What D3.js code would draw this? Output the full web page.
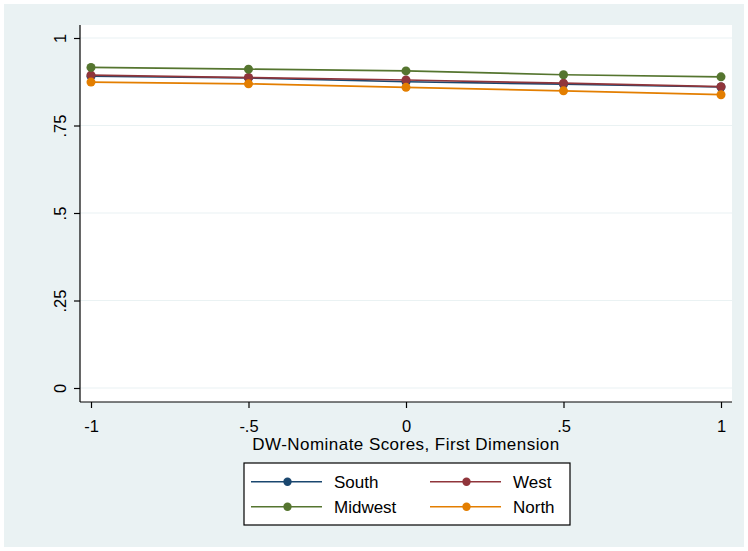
<!DOCTYPE html>
<html><head><meta charset="utf-8">
<script src="https://cdn.jsdelivr.net/npm/d3@7/dist/d3.min.js"></script>
<style>body{margin:0;background:#fff}svg{display:block}text{font-family:"Liberation Sans",Arial,sans-serif}</style>
</head><body><svg id="c" width="748" height="551"></svg>
<script>
const xValues = [-1, -0.5, 0, 0.5, 1];
const south   = [0.891, 0.886, 0.875, 0.868, 0.860];
const west    = [0.894, 0.887, 0.880, 0.871, 0.861];
const midwest = [0.916, 0.911, 0.906, 0.895, 0.889];
const north   = [0.874, 0.869, 0.859, 0.849, 0.838];
const seriesNames = ["South", "West", "Midwest", "North"];
const seriesColors = ["#1a476f", "#90353b", "#55752f", "#e37e00"];
const xTicks = [-1, -0.5, 0, 0.5, 1];
const xTickLabels = ["-1", "-.5", "0", ".5", "1"];
const yTicks = [0, 0.25, 0.5, 0.75, 1];
const yTickLabels = ["0", ".25", ".5", ".75", "1"];
const xTitle = "DW-Nominate Scores, First Dimension";

const svg = d3.select("#c");
svg.append("rect").attr("x",4).attr("y",4).attr("width",740).attr("height",543).attr("fill","#eaf2f3");
const pl = 80, pr = 732, pt = 25, pb = 402;
svg.append("rect").attr("x",pl).attr("y",pt).attr("width",pr-pl).attr("height",pb-pt).attr("fill","#fff");
const x = d3.scaleLinear().domain([-1,1]).range([91,721]);
const y = d3.scaleLinear().domain([0,1]).range([388,38]);

// gridlines
svg.append("g").selectAll("line").data(yTicks).join("line")
  .attr("x1",pl).attr("x2",pr).attr("y1",d=>y(d)).attr("y2",d=>y(d))
  .attr("stroke","#eaf2f3").attr("stroke-width",1.2);

// y axis
const yAxis = d3.axisLeft(y).tickValues(yTicks).tickSize(6).tickFormat((d,i)=>yTickLabels[i]);
const gy = svg.append("g").attr("transform",`translate(${pl},0)`).call(yAxis);
gy.select(".domain").attr("d",`M0,${pt}V${pb}`).attr("stroke","#000").attr("stroke-width",1.2);
gy.selectAll(".tick line").attr("stroke","#000").attr("stroke-width",1.2);
gy.selectAll(".tick text").attr("font-size",16.5).attr("fill","#000")
  .attr("transform","translate(-14,0) rotate(-90)")
  .attr("x",0).attr("y",0).attr("dy","0").attr("text-anchor","middle");

// x axis
const xAxis = d3.axisBottom(x).tickValues(xTicks).tickSize(6).tickFormat((d,i)=>xTickLabels[i]);
const gx = svg.append("g").attr("transform",`translate(0,${pb})`).call(xAxis);
gx.select(".domain").attr("d",`M${pl},0H${pr}`).attr("stroke","#000").attr("stroke-width",1.2);
gx.selectAll(".tick line").attr("stroke","#000").attr("stroke-width",1.2);
gx.selectAll(".tick text").attr("font-size",16.5).attr("fill","#000").attr("y",30).attr("dy","0");

svg.append("text").attr("x",(x(-1)+x(1))/2).attr("y",450).attr("text-anchor","middle")
  .attr("font-size",17).attr("letter-spacing","0.45px").attr("fill","#000").text(xTitle);

const data = [south, west, midwest, north];
const line = d3.line().x((d,i)=>x(xValues[i])).y(d=>y(d));
data.forEach((vals,k)=>{
  svg.append("path").attr("d",line(vals)).attr("fill","none").attr("stroke",seriesColors[k]).attr("stroke-width",1.7);
  svg.append("g").selectAll("circle").data(vals).join("circle")
    .attr("cx",(d,i)=>x(xValues[i])).attr("cy",d=>y(d)).attr("r",4.5).attr("fill",seriesColors[k]);
});

// legend
const lg = svg.append("g");
lg.append("rect").attr("x",244).attr("y",463).attr("width",326).attr("height",62).attr("fill","#fff").attr("stroke","#000").attr("stroke-width",1.2);
seriesNames.forEach((name,i)=>{
  const col = i%2, row = Math.floor(i/2);
  const lx = col===0 ? 251 : 430;
  const ly = row===0 ? 481.7 : 506.7;
  lg.append("line").attr("x1",lx).attr("x2",lx+71).attr("y1",ly).attr("y2",ly).attr("stroke",seriesColors[i]).attr("stroke-width",1.5);
  lg.append("circle").attr("cx",lx+36.5).attr("cy",ly).attr("r",4.2).attr("fill",seriesColors[i]);
  lg.append("text").attr("x",lx+83).attr("y",ly+6).attr("font-size",17).attr("fill","#000").text(name);
});
</script></body></html>
